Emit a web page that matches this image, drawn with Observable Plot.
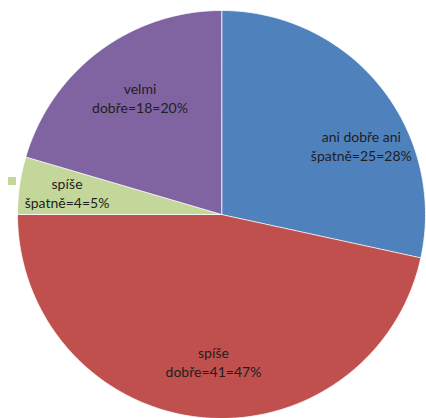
<!DOCTYPE html>
<html>
<head>
<meta charset="utf-8">
<script src="https://cdn.jsdelivr.net/npm/d3@7"></script>
<script src="https://cdn.jsdelivr.net/npm/@observablehq/plot@0.6"></script>
<style>
  html, body { margin: 0; padding: 0; background: #fff; }
  #wrap { position: relative; width: 426px; height: 418px; }
  #legend { position: absolute; left: 8px; top: 177px; width: 8px; height: 8px; }
</style>
</head>
<body>
<div id="wrap"><div id="legend"></div></div>
<script>
// Data
const categories = ["ani dobře ani špatně", "spíše dobře", "spíše špatně", "velmi dobře"];
const labelLines = [
  ["ani dobře ani", "špatně=25=28%"],
  ["spíše", "dobře=41=47%"],
  ["spíše", "špatně=4=5%"],
  ["velmi", "dobře=18=20%"]
];
const counts = [25, 41, 4, 18];
const colors = ["#4F81BD", "#C0504D", "#C4D79B", "#8064A2"];

// Layout
const W = 426, H = 418, cx = 221, cy = 214, R = 204;
const labelAngleShift = [12.5, -3, 0, 2];        // degrees
const labelRadius = [0.765, 0.72, 0.765, 0.70];  // fraction of radius

const arcs = d3.pie().sort(null).value(d => d)(counts);

const slicePts = [];
arcs.forEach((a, i) => {
  slicePts.push({cat: categories[i], x: 0, y: 0});
  const n = Math.max(2, Math.ceil((a.endAngle - a.startAngle) / (Math.PI / 180)));
  for (let k = 0; k <= n; k++) {
    const t = a.startAngle + (a.endAngle - a.startAngle) * k / n;
    slicePts.push({cat: categories[i], x: Math.sin(t), y: Math.cos(t)});
  }
});

const labels = arcs.map((a, i) => {
  const m = (a.startAngle + a.endAngle) / 2 + labelAngleShift[i] * Math.PI / 180;
  const r = labelRadius[i];
  return {text: labelLines[i].join("\n"), x: r * Math.sin(m), y: r * Math.cos(m)};
});

const chart = Plot.plot({
  width: W, height: H,
  margin: 0,
  x: {domain: [-cx / R, (W - cx) / R], axis: null},
  y: {domain: [-(H - cy) / R, cy / R], axis: null},
  color: {domain: categories, range: colors},
  style: {background: "transparent"},
  marks: [
    Plot.line(slicePts, {x: "x", y: "y", z: "cat", fill: "cat", stroke: "rgba(255,255,255,0.75)", strokeWidth: 1, curve: "linear-closed"}),
    Plot.text(labels, {x: "x", y: "y", text: "text", fill: "#1e1e1e", fontSize: 14, lineHeight: 1.4, fontFamily: "Lato, 'Open Sans', sans-serif", textAnchor: "middle"})
  ]
});
document.getElementById("wrap").prepend(chart);
document.getElementById("legend").style.background = colors[2];
</script>
</body>
</html>
